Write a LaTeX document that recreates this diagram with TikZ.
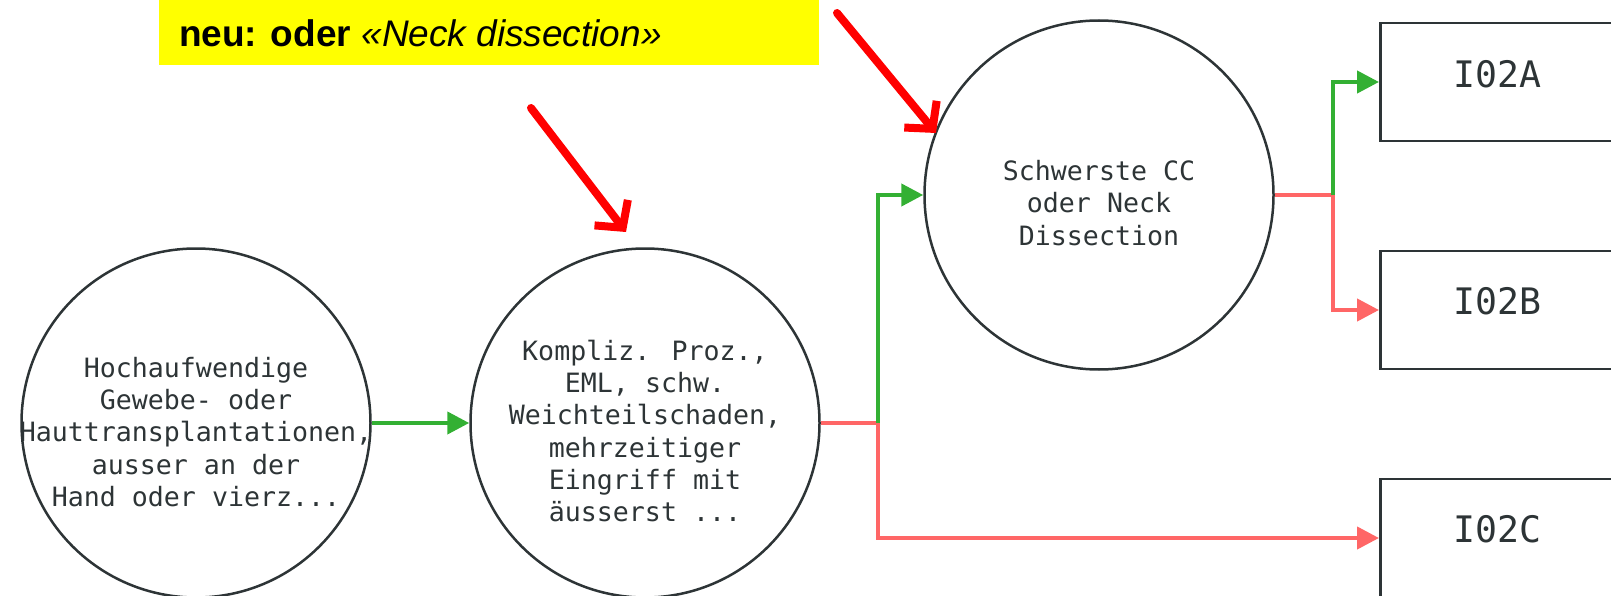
\documentclass[tikz,border=0pt]{standalone}
\usepackage{fontspec}
\setmainfont{Liberation Sans}
\newfontfamily\monofam{DejaVu Sans Mono}
\usetikzlibrary{arrows.meta}
\definecolor{gline}{HTML}{33B033}
\definecolor{rline}{HTML}{FF6666}
\definecolor{outl}{HTML}{2D3436}
\definecolor{hilite}{HTML}{FFFF00}
\begin{document}
\begin{tikzpicture}[x=1pt,y=-1pt,
  circ/.style={circle,draw=outl,line width=2.5pt,minimum size=349pt,inner sep=0pt},
  ctext/.style={align=center,text=outl,font=\monofam\fontsize{26.6}{32.3}\selectfont},
  leafbox/.style={rectangle,draw=outl,line width=2.5pt,minimum width=234pt,minimum height=118pt,inner sep=0pt,anchor=west},
  leaftext/.style={text=outl,font=\monofam\fontsize{36.5}{40}\selectfont},
  greenline/.style={draw=gline,line width=4.3pt,-{Triangle[length=22pt,width=22pt]}},
  redline/.style={draw=rline,line width=4.3pt,-{Triangle[length=22pt,width=22pt]}},
  plainred/.style={draw=rline,line width=4.3pt},
  pointer/.style={draw=red,line width=8pt,line cap=round,line join=round,-{Straight Barb[length=19pt,width=42pt]}}
]
\useasboundingbox (0,0) rectangle (1611,596);
\clip (0,0) rectangle (1611,596);
% yellow note
\fill[hilite] (159,0) rectangle (819,65);
\node[anchor=west,inner sep=0pt,font=\fontsize{37}{40}\selectfont] (note) at (179,33) {\textbf{neu: oder} \textit{«Neck dissection»}};
% circles
\node[circ] (c1) at (196,423) {};
\node[ctext] (t1) at ([yshift=-9pt]c1.center) {Hochaufwendige\\Gewebe- oder\\Hauttransplantationen,\\ausser an der\\Hand oder vierz...};
\node[circ] (c2) at (645,423) {};
\node[ctext] (t2) at ([yshift=-8pt]c2.center) {Kompliz. Proz.,\\EML, schw.\\Weichteilschaden,\\mehrzeitiger\\Eingriff mit\\äusserst ...};
\node[circ] (c3) at (1099,195) {};
\node[ctext] (t3) at ([yshift=-8pt]c3.center) {Schwerste CC\\oder Neck\\Dissection};
% leaf boxes
\node[leafbox] (A) at (1379,82) {};
\node[leaftext] (tA) at ([yshift=8pt]A.center) {I02A};
\node[leafbox] (B) at (1379,310) {};
\node[leaftext] (tB) at ([yshift=9pt]B.center) {I02B};
\node[leafbox] (C) at (1379,538) {};
\node[leaftext] (tC) at ([yshift=9pt]C.center) {I02C};
% junctions
\coordinate (j1) at (878,423);
\coordinate (j2) at (1333,195);
% connectors
\draw[greenline] (c1.east) -- (c2.west);
\draw[plainred] (c2.east) -- (j1);
\draw[redline] (j1) |- (C.west);
\draw[greenline] (j1) |- (c3.west);
\draw[plainred] (c3.east) -- (j2);
\draw[redline] (j2) |- (B.west);
\draw[greenline] (j2) |- (A.west);
% red pointers
\coordinate (p1s) at (531,108);
\coordinate (p1e) at (626,232);
\coordinate (p2s) at (837,13);
\coordinate (p2e) at (936,133);
\draw[pointer] (p1s) -- (p1e);
\draw[pointer] (p2s) -- (p2e);
\end{tikzpicture}
\end{document}
